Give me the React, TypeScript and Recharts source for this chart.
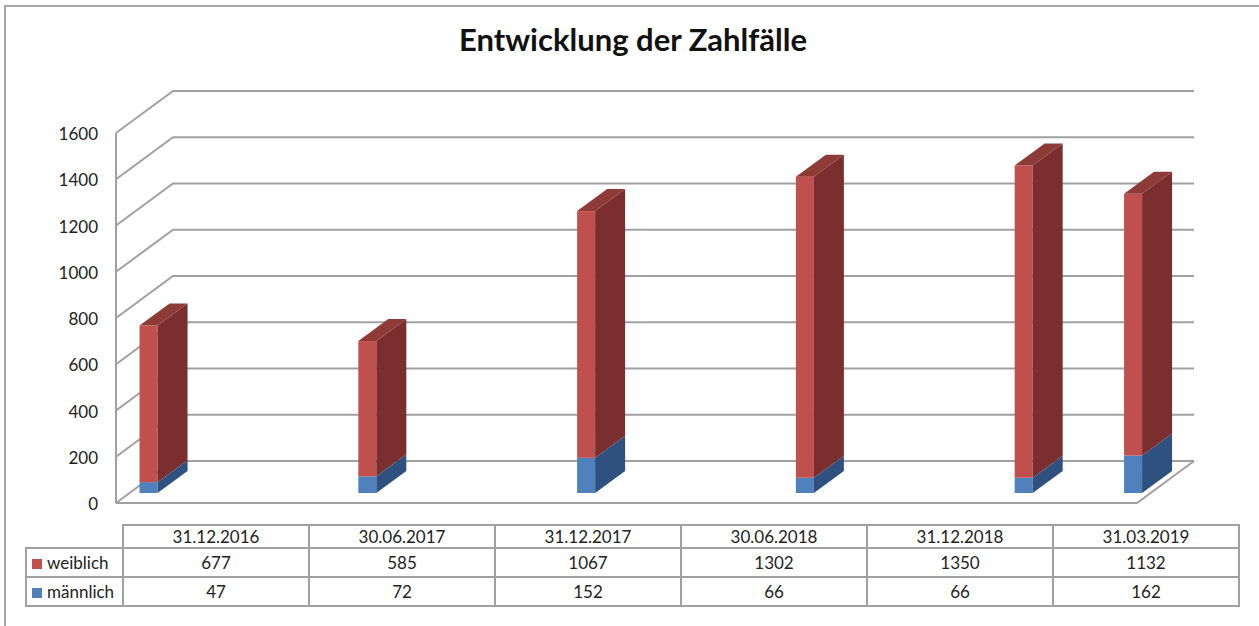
import { ComposedChart, Bar, XAxis, YAxis, CartesianGrid } from "recharts";

const dates = ["31.12.2016", "30.06.2017", "31.12.2017", "30.06.2018", "31.12.2018", "31.03.2019"];
const weiblich = [677, 585, 1067, 1302, 1350, 1132];
const maennlich = [47, 72, 152, 66, 66, 162];
const yTicks = [0, 200, 400, 600, 800, 1000, 1200, 1400, 1600];

// Zeitachse in Monaten ab dem ersten Stichtag
const monthOf = (d: string) => {
  const [, m, y] = d.split(".").map(Number);
  return y * 12 + m;
};
const first = monthOf(dates[0]);
const data = dates.map((d, i) => ({
  date: d,
  t: monthOf(d) - first + 0.5,
  weiblich: weiblich[i],
  maennlich: maennlich[i],
}));

const FONT = "Lato, 'Liberation Sans', sans-serif";
const GRID = "#a0a0a0";
// Tiefe des Bodens und der Säulen
const DX = 57;
const DY = 42;
const OFF_X = 14;
const OFF_Y = 10;
const BX = 30;
const BY = 22;
const FLOOR_Y = 503;

const block = (front: string, side: string, top?: string) => (props: any) => {
  const { x, y, width, height } = props;
  if (!height || height <= 0) return <g />;
  const fx = x + OFF_X;
  const fy = y - OFF_Y;
  const r = fx + width;
  return (
    <g>
      <rect x={fx} y={fy} width={width} height={height} fill={front} />
      <path
        d={`M${r},${fy} L${r + BX},${fy - BY} L${r + BX},${fy + height - BY} L${r},${fy + height} Z`}
        fill={side}
      />
      {top && (
        <path
          d={`M${fx},${fy} L${fx + BX},${fy - BY} L${r + BX},${fy - BY} L${r},${fy} Z`}
          fill={top}
        />
      )}
    </g>
  );
};

const gridLine = (p: any) => {
  const { x1, y1, x2 } = p;
  const floor = Math.abs(y1 - FLOOR_Y) < 2;
  return (
    <g key={`g-${y1}`}>
      <path
        d={`M${x1},${y1} L${x1 + DX},${y1 - DY} L${x2 + DX},${y1 - DY}`}
        stroke={GRID}
        strokeWidth={2}
        fill="none"
      />
      {floor && (
        <path
          d={`M${x1},${y1} L${x2},${y1} L${x2 + DX},${y1 - DY}`}
          stroke={GRID}
          strokeWidth={2}
          fill="none"
        />
      )}
    </g>
  );
};

const YTick = (p: any) => (
  <text x={98} y={p.y + 7} textAnchor="end" fontSize={17} fontFamily={FONT} fill="#222">
    {p.payload.value}
  </text>
);

const cell = (extra: any = {}) => ({
  border: `2px solid ${GRID}`,
  padding: 0,
  textAlign: "center" as const,
  overflow: "hidden",
  whiteSpace: "nowrap" as const,
  ...extra,
});

const swatch = (c: string) => (
  <span style={{ display: "inline-block", width: 10, height: 10, background: c, marginRight: 5, verticalAlign: "0px" }} />
);

export default function App() {
  return (
    <div style={{ position: "absolute", left: 0, top: 0, width: 1259, height: 626, background: "#fff", fontFamily: FONT }}>
      <div style={{ position: "absolute", left: 4, top: 5, width: 1255, height: 621, borderLeft: "2px solid #a8a8a8", borderTop: "2px solid #a8a8a8" }} />
      <div style={{ position: "absolute", left: 0, top: 20, width: 1266, textAlign: "center", fontSize: 31, fontWeight: 700, color: "#111" }}>
        Entwicklung der Zahlfälle
      </div>
      <div style={{ position: "absolute", left: 0, top: 0 }}>
        <ComposedChart width={1259} height={626} data={data} margin={{ top: 133, right: 122, bottom: 123, left: 56 }}>
          <CartesianGrid vertical={false} horizontal={gridLine} />
          <XAxis type="number" dataKey="t" domain={[0, 28]} hide />
          <YAxis
            type="number"
            width={60}
            domain={[0, 1600]}
            ticks={yTicks}
            tickLine={false}
            axisLine={{ stroke: GRID, strokeWidth: 2 }}
            tick={YTick}
          />
          <Bar dataKey="maennlich" stackId="a" barSize={18} isAnimationActive={false} shape={block("#4F81BD", "#2F5180")} />
          <Bar dataKey="weiblich" stackId="a" barSize={18} isAnimationActive={false} shape={block("#C0504D", "#7A2F2E", "#8E3A37")} />
        </ComposedChart>
      </div>
      <table
        style={{
          position: "absolute",
          left: 25,
          top: 524,
          width: 97 + 186 * dates.length,
          borderCollapse: "collapse",
          tableLayout: "fixed",
          fontSize: 17,
          color: "#222",
        }}
      >
        <colgroup>
          <col style={{ width: 97 }} />
          {dates.map((d) => (
            <col key={d} style={{ width: 186 }} />
          ))}
        </colgroup>
        <tbody>
          <tr style={{ height: 23 }}>
            <td style={cell({ borderTop: "none", borderLeft: "none" })} />
            {dates.map((d) => (
              <td key={d} style={cell()}>{d}</td>
            ))}
          </tr>
          <tr style={{ height: 29 }}>
            <td style={cell({ textAlign: "left", paddingLeft: 5 })}>
              {swatch("#C0504D")}weiblich
            </td>
            {weiblich.map((v, i) => (
              <td key={i} style={cell()}>{v}</td>
            ))}
          </tr>
          <tr style={{ height: 29 }}>
            <td style={cell({ textAlign: "left", paddingLeft: 5 })}>
              {swatch("#4F81BD")}männlich
            </td>
            {maennlich.map((v, i) => (
              <td key={i} style={cell()}>{v}</td>
            ))}
          </tr>
        </tbody>
      </table>
    </div>
  );
}
